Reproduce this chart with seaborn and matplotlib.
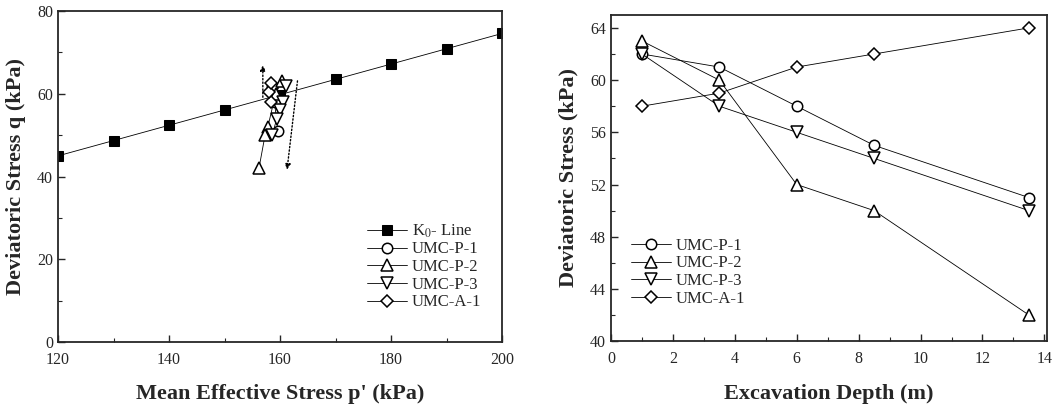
import numpy as np
import pandas as pd
import seaborn as sns
import matplotlib
matplotlib.use("Agg")
from matplotlib import pyplot as plt
from matplotlib.ticker import MultipleLocator

# ---- data ----
k0_p = [120, 130, 140, 150, 160, 170, 180, 190, 200]
k0_q = [45.0, 48.7, 52.4, 56.1, 59.8, 63.5, 67.2, 70.9, 74.6]

series = ["UMC-P-1", "UMC-P-2", "UMC-P-3", "UMC-A-1"]
depth = [1, 3.5, 6, 8.5, 13.5]
q_p1 = [62, 61, 58, 55, 51]
q_p2 = [63, 60, 52, 50, 42]
q_p3 = [62, 58, 56, 54, 50]
q_a1 = [58, 59, 61, 62, 64]

# mean effective stress of each stage (p-q paths, left panel)
p_p1 = [158.6, 159.4, 159.0, 159.4, 159.6]
p_p2 = [160.3, 159.2, 157.8, 157.3, 156.2]
p_p3 = [161.1, 160.5, 160.0, 159.4, 158.6]
p_a1 = [158.4, 158.0, 158.3, 158.0, 158.3]

# dotted trend arrows (start, end)
arrow_up = [(156.9, 58.5), (156.9, 67.6)]
arrow_down = [(163.2, 63.8), (161.2, 41.0)]

markers = {"UMC-P-1": "o", "UMC-P-2": "^", "UMC-P-3": "v", "UMC-A-1": "D"}
msize = {"UMC-P-1": 7.5, "UMC-P-2": 8, "UMC-P-3": 8, "UMC-A-1": 6.5}

df = pd.DataFrame({
    "test": np.repeat(series, len(depth)),
    "depth": depth * 4,
    "q": q_p1 + q_p2 + q_p3 + q_a1,
    "p": p_p1 + p_p2 + p_p3 + p_a1,
})
k0 = pd.DataFrame({"p": k0_p, "q": k0_q})

sns.set_style("ticks")
plt.rcParams["font.family"] = ["Liberation Serif", "DejaVu Serif"]
plt.rcParams["mathtext.fontset"] = "stix"
plt.rcParams["xtick.direction"] = "in"
plt.rcParams["ytick.direction"] = "in"

fig = plt.figure(figsize=(10.57, 4.12), dpi=100)
ax1 = fig.add_axes([0.0549, 0.170, 0.4201, 0.803])
ax2 = fig.add_axes([0.578, 0.172, 0.413, 0.792])

# ---- left: p-q space ----
sns.lineplot(data=k0, x="p", y="q", ax=ax1, color="black", lw=0.6,
             marker="s", markersize=7, markerfacecolor="black",
             markeredgecolor="black", label="K$_0$- Line")
for t in series:
    sub = df[df.test == t]
    sns.lineplot(data=sub, x="p", y="q", ax=ax1, sort=False, color="black", lw=0.6,
                 marker=markers[t], markersize=msize[t], markerfacecolor="white",
                 markeredgecolor="black", markeredgewidth=1.1, label=t)
for a in (arrow_up, arrow_down):
    ax1.annotate("", xy=a[1], xytext=a[0],
                 arrowprops=dict(arrowstyle="-|>", linestyle=(0, (1, 1.5)),
                                 color="black", lw=1.0, mutation_scale=8))

ax1.set_xlim(120, 200)
ax1.set_ylim(0, 80)
ax1.xaxis.set_major_locator(MultipleLocator(20))
ax1.xaxis.set_minor_locator(MultipleLocator(10))
ax1.yaxis.set_major_locator(MultipleLocator(20))
ax1.yaxis.set_minor_locator(MultipleLocator(10))
ax1.set_xlabel("Mean Effective Stress p' (kPa)", fontsize=16, fontweight="bold", labelpad=12)
ax1.set_ylabel("Deviatoric Stress q (kPa)", fontsize=16, fontweight="bold", labelpad=8)
ax1.legend(loc="lower left", bbox_to_anchor=(0.68, 0.075), frameon=False, fontsize=12,
           handlelength=2.4, handletextpad=0.3, labelspacing=0.1, borderaxespad=0)

# ---- right: stress vs depth ----
for t in series:
    sub = df[df.test == t]
    sns.lineplot(data=sub, x="depth", y="q", ax=ax2, color="black", lw=0.6,
                 marker=markers[t], markersize=msize[t], markerfacecolor="white",
                 markeredgecolor="black", markeredgewidth=1.1, label=t)
ax2.set_xlim(0, 14.1)
ax2.set_ylim(40, 65)
ax2.xaxis.set_major_locator(MultipleLocator(2))
ax2.xaxis.set_minor_locator(MultipleLocator(1))
ax2.yaxis.set_major_locator(MultipleLocator(4))
ax2.yaxis.set_minor_locator(MultipleLocator(2))
ax2.set_xlabel("Excavation Depth (m)", fontsize=16, fontweight="bold", labelpad=12)
ax2.set_ylabel("Deviatoric Stress (kPa)", fontsize=16, fontweight="bold", labelpad=8)
ax2.legend(loc="lower left", bbox_to_anchor=(0.03, 0.085), frameon=False, fontsize=12,
           handlelength=2.4, handletextpad=0.3, labelspacing=0.1, borderaxespad=0)

for ax in (ax1, ax2):
    for s in ax.spines.values():
        s.set_linewidth(1.3)
        s.set_visible(True)
    ax.tick_params(which="major", length=5, width=1, labelsize=11.5)
    ax.tick_params(which="minor", length=3, width=0.8)
    ax.tick_params(axis="x", which="major", pad=7)

fig.savefig("out.png", dpi=100)
